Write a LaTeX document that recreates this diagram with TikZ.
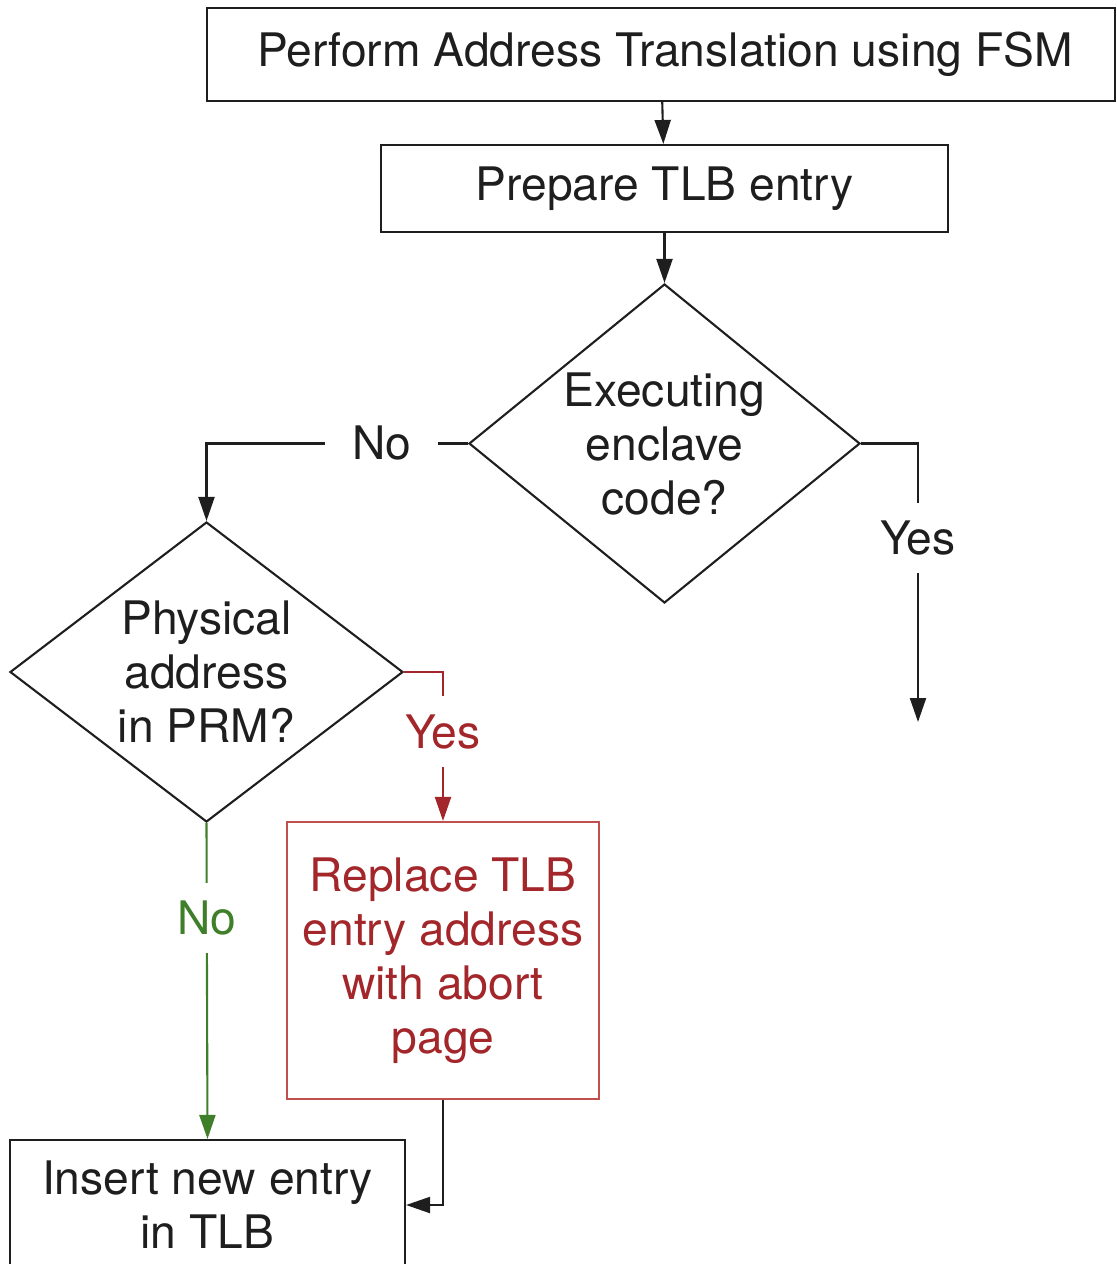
\documentclass[tikz,border=0pt]{standalone}
\usepackage{fontspec}
\setmainfont{TeX Gyre Heros}
\usetikzlibrary{shapes.geometric,arrows.meta}
\definecolor{dred}{HTML}{A3262A}
\definecolor{lred}{HTML}{C0504D}
\definecolor{dgreen}{HTML}{3F7F2A}
\definecolor{ink}{HTML}{1E1E1E}
\begin{document}
\begin{tikzpicture}[x=0.5pt,y=-0.5pt,
  every node/.style={font=\fontsize{23.1}{27}\selectfont, text=ink},
  procbox/.style={draw=ink, line width=1.05pt, align=center, inner sep=0pt},
  decision/.style={draw=ink, line width=1.05pt, diamond, inner sep=0pt},
  dtext/.style={align=center},
  flow/.style={draw=ink, line width=1.05pt, -{Triangle[length=12pt,width=8pt]}},
  lbl/.style={fill=white, inner xsep=13.5pt, inner ysep=9pt}]
\useasboundingbox (0,0) rectangle (1117,1264);
\clip (0,0) rectangle (1117,1264);

% process boxes
\node[procbox, minimum width=454pt, minimum height=46.5pt] (fsm) at (661,54.5)
  {\hspace*{4pt}Perform Address Translation using FSM};
\node[procbox, minimum width=283.5pt, minimum height=43.5pt] (prep) at (664.5,188.5)
  {Prepare TLB entry};
\node[procbox, draw=lred, text=dred, minimum width=156pt, minimum height=138.5pt] (repl) at (443,960.5)
  {Replace TLB\\entry address\\with abort\\page};
\node[procbox, minimum width=197.5pt, minimum height=65pt] (ins) at (207.5,1205)
  {Insert new entry\\in TLB};

% decisions (outline sized explicitly, text set on top)
\node[decision, minimum width=195.5pt, minimum height=159.5pt,
  label={[dtext]center:Executing\\enclave\\code?}] (encl) at (664.5,443.5) {};
\node[decision, minimum width=196.5pt, minimum height=150pt,
  label={[dtext]center:Physical\\address\\in PRM?}] (prm) at (206.5,672) {};

\coordinate (yesend) at (918,722);

% connectors
\draw[flow] (fsm) -- (prep);
\draw[flow] (prep) -- (encl);
\draw[flow] (encl.west) -| node[lbl, pos=0.165] {No} (prm.north);
\draw[flow] (encl.east) -| node[lbl, pos=0.67] {Yes} (yesend);
\draw[flow, draw=dred] (prm.east) -| node[lbl, pos=0.70, text=dred] {Yes} (repl.north);
\draw[flow, draw=dgreen] (prm.south) -- node[lbl, pos=0.30, text=dgreen] {No} (ins.north);
\draw[flow] (repl.south) |- (ins.east);
\end{tikzpicture}
\end{document}
